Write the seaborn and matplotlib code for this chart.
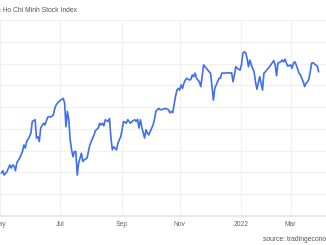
import matplotlib
matplotlib.use("Agg")
import matplotlib.pyplot as plt
import seaborn as sns
import pandas as pd

# trading-session index (from the left edge of the visible chart) and index level
sessions = [0, 1, 2, 4, 5, 6, 7, 8, 9, 10, 11, 13, 15, 16, 17, 18, 20, 21, 22, 24,
            25, 26, 27, 28, 30, 31, 32, 33, 34, 35, 37, 38, 39, 41, 43, 44, 45, 46, 47, 48,
            49, 50, 51, 52, 53, 54, 55, 56, 57, 58, 59, 61, 62, 63, 65, 66, 67, 69, 70, 71,
            72, 73, 74, 76, 77, 78, 79, 80, 82, 83, 84, 85, 86, 87, 89, 90, 91, 92, 93, 95,
            96, 97, 98, 99, 100, 102, 103, 104, 105, 106, 108, 109, 110, 111, 112, 113, 115, 117, 119, 120,
            121, 122, 124, 125, 126, 127, 128, 129, 130, 131, 132, 134, 135, 136, 137, 138, 139, 141, 142, 143,
            144, 145, 147, 148, 149, 150, 151, 152, 154, 155, 156, 157, 159, 161, 163, 164, 165, 166, 167, 168,
            170, 171, 172, 173, 174, 175, 176, 177, 178, 180, 181, 182, 183, 184, 186, 187, 188, 189, 191, 193,
            194, 195, 196, 197, 199, 200, 201, 202, 203, 204, 206, 207, 208, 209, 210, 212, 213, 214, 215, 216,
            217, 218, 219, 220, 221, 222, 223, 225, 226]
index_level = [1248, 1254, 1244, 1252, 1260, 1267, 1260, 1267, 1265, 1254, 1272, 1283, 1298, 1313, 1306, 1321, 1332, 1340, 1367, 1371,
               1329, 1332, 1321, 1352, 1363, 1359, 1368, 1377, 1378, 1377, 1382, 1397, 1405, 1413, 1418, 1420, 1410, 1355, 1390, 1371,
               1325, 1302, 1286, 1298, 1298, 1244, 1271, 1283, 1294, 1275, 1279, 1283, 1298, 1313, 1329, 1336, 1346, 1352, 1363, 1359,
               1363, 1357, 1371, 1367, 1374, 1330, 1302, 1309, 1302, 1317, 1325, 1332, 1348, 1367, 1363, 1371, 1367, 1363, 1367, 1371,
               1367, 1372, 1352, 1371, 1354, 1329, 1348, 1340, 1336, 1344, 1359, 1371, 1390, 1394, 1397, 1394, 1395, 1397, 1394, 1387,
               1390, 1387, 1424, 1439, 1443, 1439, 1451, 1443, 1455, 1462, 1466, 1462, 1464, 1474, 1470, 1478, 1466, 1458, 1447, 1470,
               1497, 1493, 1485, 1481, 1478, 1447, 1416, 1443, 1458, 1466, 1466, 1478, 1478, 1479, 1478, 1479, 1458, 1474, 1493, 1489,
               1485, 1497, 1524, 1527, 1525, 1512, 1493, 1508, 1497, 1481, 1458, 1441, 1455, 1470, 1439, 1478, 1481, 1485, 1493, 1502,
               1507, 1497, 1472, 1501, 1504, 1508, 1504, 1510, 1501, 1494, 1497, 1489, 1501, 1504, 1497, 1478, 1474, 1466, 1458, 1447,
               1455, 1458, 1464, 1481, 1501, 1502, 1499, 1494, 1481]

tick_sessions = [-1, 42, 86, 127, 171, 206]
tick_labels = ["May", "Jul", "Sep", "Nov", "2022", "Mar"]
y_ticks = [1150, 1200, 1250, 1300, 1350, 1400, 1450, 1500, 1550, 1600]

title = "Vietnam Ho Chi Minh Stock Index"
source = "source: tradingeconomics.com"

df = pd.DataFrame({"session": sessions, "value": index_level})

sns.set_style("white")
plt.rcParams["font.family"] = ["Liberation Sans", "DejaVu Sans"]

fig = plt.figure(figsize=(3.26, 2.45), dpi=100)
ax = fig.add_axes([0.0, 29 / 245, 1.0, 196 / 245])

sns.lineplot(data=df, x="session", y="value", ax=ax, color="#3f6ff0", linewidth=1.2)

ax.set_xlim(0, 326 / 1.41)
ax.set_ylim(y_ticks[0], y_ticks[-1])
ax.set_yticks(y_ticks)
ax.set_yticklabels([])
ax.set_xticks(tick_sessions)
ax.set_xticklabels(tick_labels)
ax.tick_params(axis="x", length=0, pad=3.5, labelsize=4.9, labelcolor="#666666")
ax.tick_params(axis="y", length=0)
ax.set_xlabel("")
ax.set_ylabel("")
ax.grid(True, color="#f0f0f0", linewidth=0.8)
for s in ["left", "right", "top"]:
    ax.spines[s].set_visible(False)
ax.spines["bottom"].set_color("#e4e8ef")
ax.spines["bottom"].set_linewidth(1.5)
ax.set_axisbelow(True)

fig.text(-24.4 / 326, 1 - 11 / 245, title, fontsize=4.9, color="#555555", va="center", ha="left")
fig.text(263 / 326, 1 - 239 / 245, source, fontsize=4.9, color="#555555", va="center", ha="left")

fig.savefig("out.png", dpi=100)
